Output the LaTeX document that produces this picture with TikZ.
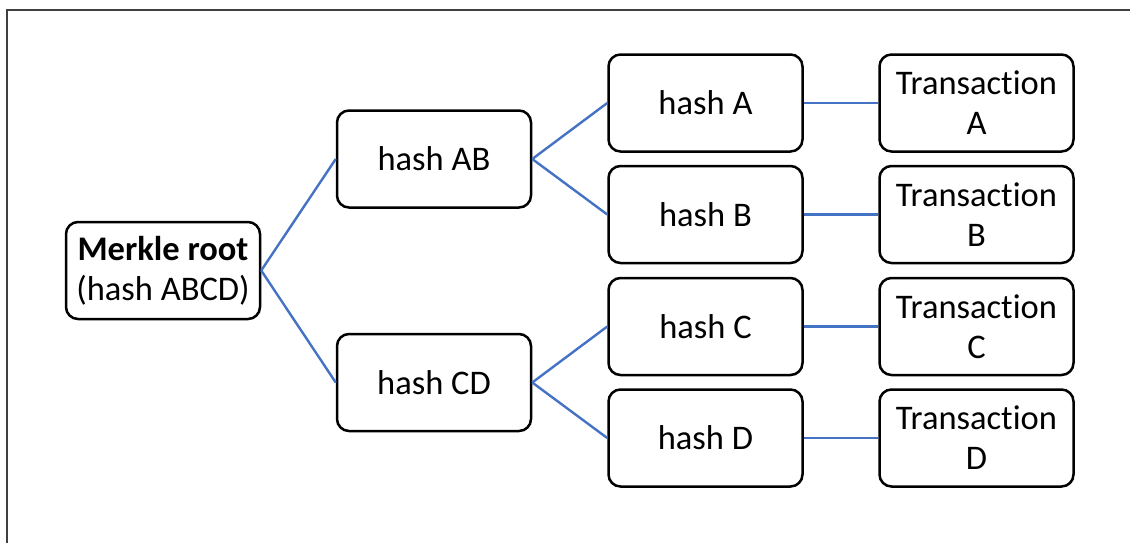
\documentclass[tikz,border=0pt]{standalone}
\usepackage{fontspec}
\setmainfont{Carlito}[Ligatures={NoCommon}]
\definecolor{linkblue}{HTML}{4472C4}
\definecolor{framegray}{HTML}{404040}
\begin{document}
\begin{tikzpicture}[x=1pt,y=-1pt,
  hashbox/.style={draw=black, line width=2.5pt, rounded corners=12pt, fill=white,
    minimum width=194pt, minimum height=97pt, align=center, inner sep=0pt,
    font=\fontsize{34.5}{40}\selectfont},
  link/.style={draw=linkblue, line width=2.4pt}]
  \useasboundingbox (0,0) rectangle (1130,542);
  % frame along the top and left edges
  \draw[framegray, line width=1.2pt] (7,545) -- (7,10) -- (1135,10);

  % tree levels
  \node[hashbox] (root) at (163,270.5) {\textbf{Merkle root}\\(hash ABCD)};
  \node[hashbox] (ab) at (434,159) {hash AB};
  \node[hashbox] (cd) at (434,382.5) {hash CD};
  \node[hashbox] (ha) at (705.5,103) {hash A};
  \node[hashbox] (hb) at (705.5,214.5) {hash B};
  \node[hashbox] (hc) at (705.5,326.5) {hash C};
  \node[hashbox] (hd) at (705.5,438) {hash D};
  \node[hashbox] (ta) at (976.5,103) {Transaction\\A};
  \node[hashbox] (tb) at (976.5,214.5) {Transaction\\B};
  \node[hashbox] (tc) at (976.5,326.5) {Transaction\\C};
  \node[hashbox] (td) at (976.5,438) {Transaction\\D};

  % connectors
  \draw[link] (root.east) -- (ab.west);
  \draw[link] (root.east) -- (cd.west);
  \draw[link] (ab.east) -- (ha.west);
  \draw[link] (ab.east) -- (hb.west);
  \draw[link] (cd.east) -- (hc.west);
  \draw[link] (cd.east) -- (hd.west);
  \draw[link] (ha.east) -- (ta.west);
  \draw[link] (hb.east) -- (tb.west);
  \draw[link] (hc.east) -- (tc.west);
  \draw[link] (hd.east) -- (td.west);
\end{tikzpicture}
\end{document}
